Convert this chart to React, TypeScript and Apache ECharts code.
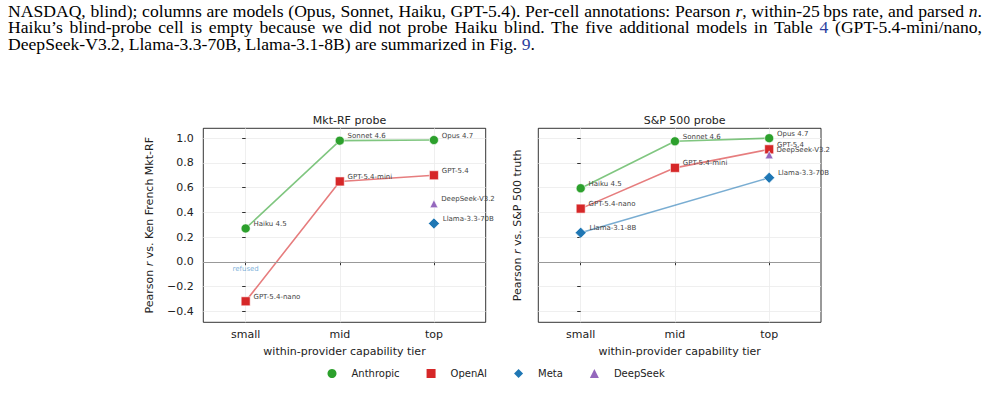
import React, { useEffect, useRef } from 'react';
import * as echarts from 'echarts';

// ---- data ----
const tiers = ['small', 'mid', 'top'];
const tierPos = [0, 1, 2];
const yTicks = [-0.4, -0.2, 0, 0.2, 0.4, 0.6, 0.8, 1.0];

const anthropicModels = ['Haiku 4.5', 'Sonnet 4.6', 'Opus 4.7'];
const openaiModels = ['GPT-5.4-nano', 'GPT-5.4-mini', 'GPT-5.4'];
const metaModels = ['Llama-3.1-8B', '', 'Llama-3.3-70B'];
const deepseekModels = ['', '', 'DeepSeek-V3.2'];

const mktAnthropic = [0.27, 0.98, 0.985];
const mktOpenAI = [-0.32, 0.65, 0.7];
const mktMeta = [null, null, 0.31];
const mktDeepSeek = [null, null, 0.47];

const spAnthropic = [0.595, 0.975, 1.0];
const spOpenAI = [0.43, 0.76, 0.91];
const spMeta = [0.235, null, 0.68];
const spDeepSeek = [null, null, 0.865];

const refusedTier = 0;
const refusedY = -0.06;
const refusedText = 'refused';

const panelTitles = ['Mkt-RF probe', 'S&P 500 probe'];
const xAxisTitle = 'within-provider capability tier';

const FONT = 'DejaVu Sans';

const providers = [
  { name: 'Anthropic', color: '#2ca02c', symbol: 'circle', size: 9 },
  { name: 'OpenAI', color: '#d62728', symbol: 'rect', size: 9 },
  { name: 'Meta', color: '#1f77b4', symbol: 'diamond', size: 11 },
  { name: 'DeepSeek', color: '#9467bd', symbol: 'triangle', size: 8 },
];

function makeSeries(gridIndex: number, pi: number, values: (number | null)[], models: string[]) {
  const p = providers[pi];
  const data = values
    .map((v, i) => (v == null ? null : { value: [tierPos[i], v], name: models[i] }))
    .filter((d) => d !== null);
  return {
    type: 'line',
    name: p.name,
    xAxisIndex: gridIndex,
    yAxisIndex: gridIndex,
    data,
    symbol: p.symbol,
    symbolSize: p.size,
    itemStyle: { color: p.color, borderColor: '#ffffff', borderWidth: 0.6, opacity: 1 },
    lineStyle: { color: p.color, width: 1.6, opacity: 0.6 },
    label: {
      show: true,
      position: 'right',
      distance: 3,
      offset: [0, -4.5],
      formatter: '{b}',
      fontFamily: FONT,
      fontSize: 7,
      color: '#444444',
    },
    emphasis: { disabled: true },
    z: 3,
  };
}

function zeroLineSeries(gridIndex: number) {
  return {
    type: 'line',
    xAxisIndex: gridIndex,
    yAxisIndex: gridIndex,
    data: [],
    silent: true,
    markLine: {
      silent: true,
      symbol: 'none',
      label: { show: false },
      lineStyle: { color: '#999999', width: 1, type: 'solid' },
      data: [{ yAxis: 0 }],
    },
    z: 1,
  };
}

function xAxis(gridIndex: number) {
  return {
    type: 'value',
    gridIndex,
    min: -0.45,
    max: 2.55,
    axisLine: { show: false },
    axisTick: { show: true, customValues: tierPos, length: 3.5, lineStyle: { color: '#000', width: 0.8 } },
    axisLabel: {
      customValues: tierPos,
      formatter: (v: number) => tiers[Math.round(v)] ?? '',
      fontFamily: FONT,
      fontSize: 11,
      color: '#222',
      margin: 7,
    },
    splitLine: { show: true, customValues: tierPos, lineStyle: { color: '#ebebeb', width: 0.8 } },
    name: xAxisTitle,
    nameLocation: 'middle',
    nameGap: 24,
    nameTextStyle: { fontFamily: FONT, fontSize: 11, color: '#222' },
  };
}

function yAxis(gridIndex: number, labels: boolean, nameParts: string[], nameGap: number) {
  return {
    type: 'value',
    gridIndex,
    min: -0.49,
    max: 1.08,
    axisLine: { show: false },
    axisTick: { show: true, customValues: yTicks, length: 3.5, lineStyle: { color: '#000', width: 0.8 } },
    axisLabel: {
      show: labels,
      customValues: yTicks,
      formatter: (v: number) => v.toFixed(1).replace('-', '\u2212'),
      fontFamily: FONT,
      fontSize: 11,
      color: '#222',
      margin: 9.5,
    },
    splitLine: { show: true, customValues: yTicks, lineStyle: { color: '#ebebeb', width: 0.8 } },
    name: `{a|${nameParts[0]}}{i|${nameParts[1]}}{a|${nameParts[2]}}`,
    nameLocation: 'middle',
    nameGap,
    nameTextStyle: {
      fontFamily: FONT,
      fontSize: 11,
      color: '#222',
      rich: {
        a: { fontFamily: FONT, fontSize: 11, color: '#222' },
        i: { fontFamily: FONT, fontSize: 11, color: '#222', fontStyle: 'italic' },
      },
    },
  };
}

export default function App() {
  const ref = useRef<HTMLDivElement>(null);

  useEffect(() => {
    document.body.style.margin = '0';
    if (!ref.current) return;
    const chart = echarts.init(ref.current, undefined, { renderer: 'svg' });
    const grids = [
      { left: 203.3, top: 128.3, width: 282.4, height: 194 },
      { left: 538.3, top: 128.3, width: 282.7, height: 194 },
    ];
    const option: any = {
      animation: false,
      backgroundColor: '#ffffff',
      textStyle: { fontFamily: FONT },
      title: grids.map((g, i) => ({
        text: panelTitles[i],
        left: g.left + g.width / 2,
        top: 110,
        textAlign: 'center',
        textStyle: { fontFamily: FONT, fontSize: 11, fontWeight: 'normal', color: '#222' },
      })),
      grid: grids.map((g) => ({
        ...g,
        show: true,
        borderColor: '#000',
        borderWidth: 0.8,
        backgroundColor: 'transparent',
        containLabel: false,
      })),
      xAxis: [xAxis(0), xAxis(1)],
      yAxis: [
        yAxis(0, true, ['Pearson ', 'r', ' vs. Ken French Mkt-RF'], 48),
        yAxis(1, false, ['Pearson ', 'r', ' vs. S&P 500 truth'], 15.5),
      ],
      legend: {
        left: 322.5,
        top: 363.5,
        itemWidth: 9,
        itemHeight: 9,
        itemGap: 27,
        textStyle: { fontFamily: FONT, fontSize: 10, color: '#222', padding: [0, 0, 0, 10] },
        data: providers.map((p) => ({ name: p.name, icon: p.symbol, itemStyle: { color: p.color, borderWidth: 0 } })),
      },
      series: [
        zeroLineSeries(0),
        zeroLineSeries(1),
        makeSeries(0, 0, mktAnthropic, anthropicModels),
        makeSeries(0, 1, mktOpenAI, openaiModels),
        makeSeries(0, 2, mktMeta, metaModels),
        makeSeries(0, 3, mktDeepSeek, deepseekModels),
        makeSeries(1, 0, spAnthropic, anthropicModels),
        makeSeries(1, 1, spOpenAI, openaiModels),
        makeSeries(1, 2, spMeta, metaModels),
        makeSeries(1, 3, spDeepSeek, deepseekModels),
        {
          type: 'scatter',
          xAxisIndex: 0,
          yAxisIndex: 0,
          symbolSize: 0,
          silent: true,
          data: [{ value: [refusedTier, refusedY], name: refusedText }],
          label: {
            show: true,
            position: 'inside',
            formatter: '{b}',
            fontFamily: FONT,
            fontSize: 7,
            color: '#5b9bd0',
          },
        },
      ],
    };
    chart.setOption(option);
    return () => chart.dispose();
  }, []);

  const SCALE = 1.1;
  const capStyle: React.CSSProperties = {
    fontFamily: '"Liberation Serif", "Times New Roman", serif',
    fontSize: '16px',
    lineHeight: '16.7px',
    height: '16.7px',
    color: '#000',
    whiteSpace: 'nowrap',
  };
  const link: React.CSSProperties = { color: '#2a3ea0' };

  return (
    <div style={{ position: 'relative', width: 987, height: 401, overflow: 'hidden', background: '#fff' }}>
      <div ref={ref} style={{ position: 'absolute', left: 0, top: 0, width: 987, height: 401 }} />
      <div
        style={{
          position: 'absolute',
          left: 8,
          top: 3.5,
          width: 974 / SCALE,
          transform: `scaleX(${SCALE})`,
          transformOrigin: '0 0',
        }}
      >
        <div style={{ ...capStyle, textAlign: 'justify', textAlignLast: 'justify' }}>
          NASDAQ, blind); columns are models (Opus, Sonnet, Haiku, GPT-5.4). Per-cell annotations: Pearson <i>r</i>,
          within-25&#8201;bps rate, and parsed <i>n</i>.
        </div>
        <div style={{ ...capStyle, textAlign: 'justify', textAlignLast: 'justify' }}>
          Haiku’s blind-probe cell is empty because we did not probe Haiku blind. The five additional models in Table{' '}
          <span style={link}>4</span> (GPT-5.4-mini/nano,
        </div>
        <div style={capStyle}>
          DeepSeek-V3.2, Llama-3.3-70B, Llama-3.1-8B) are summarized in Fig. <span style={link}>9</span>.
        </div>
      </div>
    </div>
  );
}
